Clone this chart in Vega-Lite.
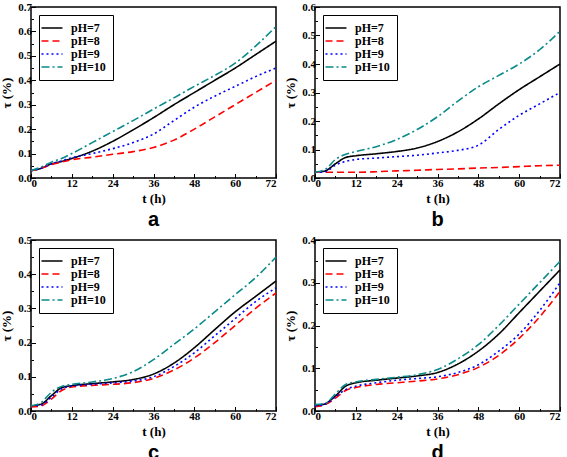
{
  "$schema": "https://vega.github.io/schema/vega-lite/v6.json",
  "padding": {"left": 0, "top": 0, "right": 4, "bottom": 0},
  "spacing": 2,
  "config": {
    "view": {"stroke": "black", "strokeWidth": 1.5},
    "font": "Liberation Serif",
    "axis": {
      "domain": false, "grid": false,
      "tickColor": "black", "tickWidth": 1,
      "tickSize": {"condition": {"test": "round(datum.value * 1000) % 100 !== 0", "value": -2.5}, "value": -4.5},
      "labelFont": "Liberation Serif", "labelFontWeight": "bold", "labelFontSize": 11, "labelColor": "black",
      "titleFont": "Liberation Serif", "titleFontWeight": "bold", "titleFontSize": 13, "titleColor": "black",
      "labelPadding": 4
    },
    "axisX": {"tickSize": {"condition": {"test": "datum.value % 12 !== 0", "value": -2.5}, "value": -4.5}, "labelExpr": "datum.value % 12 === 0 ? datum.label : ''"},
    "axisY": {"labelExpr": "round(datum.value * 1000) % 100 === 0 ? format(datum.value, '.1f') : ''"},
    "legend": {
      "orient": "top-left", "offset": 8, "strokeColor": "black", "fillColor": "white", "padding": 7,
      "symbolType": "M-2.1,0H2.1", "symbolSize": 100, "symbolStrokeWidth": 2,
      "labelFont": "Liberation Serif", "labelFontWeight": "bold", "labelFontSize": 12, "labelColor": "black", "labelOffset": 13,
      "rowPadding": 1, "title": null
    },
    "title": {"font": "Liberation Sans", "fontWeight": "bold", "fontSize": 20, "orient": "bottom", "anchor": "middle", "offset": 0, "color": "black"},
    "line": {"strokeWidth": 1.6, "interpolate": "monotone"}
  },
  "datasets": {
    "a": [
      {"t":0,"pH":"pH=7","v":0.03},{"t":3,"pH":"pH=7","v":0.04},{"t":6,"pH":"pH=7","v":0.058},{"t":9,"pH":"pH=7","v":0.068},{"t":12,"pH":"pH=7","v":0.08},{"t":18,"pH":"pH=7","v":0.11},{"t":24,"pH":"pH=7","v":0.15},{"t":30,"pH":"pH=7","v":0.197},{"t":36,"pH":"pH=7","v":0.247},{"t":42,"pH":"pH=7","v":0.3},{"t":48,"pH":"pH=7","v":0.35},{"t":54,"pH":"pH=7","v":0.4},{"t":60,"pH":"pH=7","v":0.45},{"t":66,"pH":"pH=7","v":0.505},{"t":72,"pH":"pH=7","v":0.56},
      {"t":0,"pH":"pH=8","v":0.03},{"t":3,"pH":"pH=8","v":0.04},{"t":6,"pH":"pH=8","v":0.055},{"t":9,"pH":"pH=8","v":0.065},{"t":12,"pH":"pH=8","v":0.075},{"t":18,"pH":"pH=8","v":0.085},{"t":24,"pH":"pH=8","v":0.097},{"t":30,"pH":"pH=8","v":0.108},{"t":36,"pH":"pH=8","v":0.125},{"t":42,"pH":"pH=8","v":0.155},{"t":48,"pH":"pH=8","v":0.2},{"t":54,"pH":"pH=8","v":0.25},{"t":60,"pH":"pH=8","v":0.3},{"t":66,"pH":"pH=8","v":0.35},{"t":72,"pH":"pH=8","v":0.4},
      {"t":0,"pH":"pH=9","v":0.03},{"t":3,"pH":"pH=9","v":0.04},{"t":6,"pH":"pH=9","v":0.058},{"t":9,"pH":"pH=9","v":0.07},{"t":12,"pH":"pH=9","v":0.083},{"t":18,"pH":"pH=9","v":0.1},{"t":24,"pH":"pH=9","v":0.12},{"t":30,"pH":"pH=9","v":0.145},{"t":36,"pH":"pH=9","v":0.18},{"t":42,"pH":"pH=9","v":0.235},{"t":48,"pH":"pH=9","v":0.29},{"t":54,"pH":"pH=9","v":0.335},{"t":60,"pH":"pH=9","v":0.375},{"t":66,"pH":"pH=9","v":0.415},{"t":72,"pH":"pH=9","v":0.45},
      {"t":0,"pH":"pH=10","v":0.03},{"t":3,"pH":"pH=10","v":0.045},{"t":6,"pH":"pH=10","v":0.065},{"t":9,"pH":"pH=10","v":0.08},{"t":12,"pH":"pH=10","v":0.1},{"t":18,"pH":"pH=10","v":0.145},{"t":24,"pH":"pH=10","v":0.19},{"t":30,"pH":"pH=10","v":0.235},{"t":36,"pH":"pH=10","v":0.282},{"t":42,"pH":"pH=10","v":0.328},{"t":48,"pH":"pH=10","v":0.375},{"t":54,"pH":"pH=10","v":0.42},{"t":60,"pH":"pH=10","v":0.47},{"t":66,"pH":"pH=10","v":0.54},{"t":72,"pH":"pH=10","v":0.62}
    ],
    "b": [
      {"t":0,"pH":"pH=7","v":0.02},{"t":3,"pH":"pH=7","v":0.025},{"t":6,"pH":"pH=7","v":0.05},{"t":9,"pH":"pH=7","v":0.072},{"t":12,"pH":"pH=7","v":0.078},{"t":18,"pH":"pH=7","v":0.085},{"t":24,"pH":"pH=7","v":0.093},{"t":30,"pH":"pH=7","v":0.105},{"t":36,"pH":"pH=7","v":0.128},{"t":42,"pH":"pH=7","v":0.162},{"t":48,"pH":"pH=7","v":0.207},{"t":54,"pH":"pH=7","v":0.26},{"t":60,"pH":"pH=7","v":0.31},{"t":66,"pH":"pH=7","v":0.355},{"t":72,"pH":"pH=7","v":0.4},
      {"t":0,"pH":"pH=8","v":0.02},{"t":6,"pH":"pH=8","v":0.02},{"t":12,"pH":"pH=8","v":0.02},{"t":18,"pH":"pH=8","v":0.022},{"t":24,"pH":"pH=8","v":0.025},{"t":30,"pH":"pH=8","v":0.027},{"t":36,"pH":"pH=8","v":0.03},{"t":42,"pH":"pH=8","v":0.032},{"t":48,"pH":"pH=8","v":0.035},{"t":54,"pH":"pH=8","v":0.037},{"t":60,"pH":"pH=8","v":0.04},{"t":66,"pH":"pH=8","v":0.043},{"t":72,"pH":"pH=8","v":0.045},
      {"t":0,"pH":"pH=9","v":0.02},{"t":3,"pH":"pH=9","v":0.022},{"t":6,"pH":"pH=9","v":0.045},{"t":9,"pH":"pH=9","v":0.058},{"t":12,"pH":"pH=9","v":0.065},{"t":18,"pH":"pH=9","v":0.07},{"t":24,"pH":"pH=9","v":0.075},{"t":30,"pH":"pH=9","v":0.08},{"t":36,"pH":"pH=9","v":0.088},{"t":42,"pH":"pH=9","v":0.097},{"t":48,"pH":"pH=9","v":0.115},{"t":54,"pH":"pH=9","v":0.17},{"t":60,"pH":"pH=9","v":0.22},{"t":66,"pH":"pH=9","v":0.26},{"t":72,"pH":"pH=9","v":0.3},
      {"t":0,"pH":"pH=10","v":0.02},{"t":3,"pH":"pH=10","v":0.03},{"t":6,"pH":"pH=10","v":0.065},{"t":9,"pH":"pH=10","v":0.083},{"t":12,"pH":"pH=10","v":0.093},{"t":18,"pH":"pH=10","v":0.11},{"t":24,"pH":"pH=10","v":0.135},{"t":30,"pH":"pH=10","v":0.17},{"t":36,"pH":"pH=10","v":0.215},{"t":42,"pH":"pH=10","v":0.27},{"t":48,"pH":"pH=10","v":0.32},{"t":54,"pH":"pH=10","v":0.36},{"t":60,"pH":"pH=10","v":0.4},{"t":66,"pH":"pH=10","v":0.45},{"t":72,"pH":"pH=10","v":0.515}
    ],
    "c": [
      {"t":0,"pH":"pH=7","v":0.015},{"t":3,"pH":"pH=7","v":0.02},{"t":6,"pH":"pH=7","v":0.045},{"t":9,"pH":"pH=7","v":0.068},{"t":12,"pH":"pH=7","v":0.074},{"t":18,"pH":"pH=7","v":0.08},{"t":24,"pH":"pH=7","v":0.085},{"t":30,"pH":"pH=7","v":0.092},{"t":36,"pH":"pH=7","v":0.108},{"t":42,"pH":"pH=7","v":0.14},{"t":48,"pH":"pH=7","v":0.185},{"t":54,"pH":"pH=7","v":0.238},{"t":60,"pH":"pH=7","v":0.29},{"t":66,"pH":"pH=7","v":0.335},{"t":72,"pH":"pH=7","v":0.38},
      {"t":0,"pH":"pH=8","v":0.012},{"t":3,"pH":"pH=8","v":0.015},{"t":6,"pH":"pH=8","v":0.035},{"t":9,"pH":"pH=8","v":0.06},{"t":12,"pH":"pH=8","v":0.07},{"t":18,"pH":"pH=8","v":0.075},{"t":24,"pH":"pH=8","v":0.078},{"t":30,"pH":"pH=8","v":0.083},{"t":36,"pH":"pH=8","v":0.095},{"t":42,"pH":"pH=8","v":0.12},{"t":48,"pH":"pH=8","v":0.155},{"t":54,"pH":"pH=8","v":0.2},{"t":60,"pH":"pH=8","v":0.25},{"t":66,"pH":"pH=8","v":0.3},{"t":72,"pH":"pH=8","v":0.345},
      {"t":0,"pH":"pH=9","v":0.015},{"t":3,"pH":"pH=9","v":0.018},{"t":6,"pH":"pH=9","v":0.04},{"t":9,"pH":"pH=9","v":0.065},{"t":12,"pH":"pH=9","v":0.073},{"t":18,"pH":"pH=9","v":0.078},{"t":24,"pH":"pH=9","v":0.082},{"t":30,"pH":"pH=9","v":0.088},{"t":36,"pH":"pH=9","v":0.1},{"t":42,"pH":"pH=9","v":0.13},{"t":48,"pH":"pH=9","v":0.17},{"t":54,"pH":"pH=9","v":0.22},{"t":60,"pH":"pH=9","v":0.27},{"t":66,"pH":"pH=9","v":0.32},{"t":72,"pH":"pH=9","v":0.36},
      {"t":0,"pH":"pH=10","v":0.015},{"t":3,"pH":"pH=10","v":0.025},{"t":6,"pH":"pH=10","v":0.055},{"t":9,"pH":"pH=10","v":0.072},{"t":12,"pH":"pH=10","v":0.078},{"t":18,"pH":"pH=10","v":0.085},{"t":24,"pH":"pH=10","v":0.095},{"t":30,"pH":"pH=10","v":0.115},{"t":36,"pH":"pH=10","v":0.15},{"t":42,"pH":"pH=10","v":0.195},{"t":48,"pH":"pH=10","v":0.24},{"t":54,"pH":"pH=10","v":0.29},{"t":60,"pH":"pH=10","v":0.34},{"t":66,"pH":"pH=10","v":0.39},{"t":72,"pH":"pH=10","v":0.45}
    ],
    "d": [
      {"t":0,"pH":"pH=7","v":0.012},{"t":3,"pH":"pH=7","v":0.017},{"t":6,"pH":"pH=7","v":0.035},{"t":9,"pH":"pH=7","v":0.058},{"t":12,"pH":"pH=7","v":0.066},{"t":18,"pH":"pH=7","v":0.072},{"t":24,"pH":"pH=7","v":0.077},{"t":30,"pH":"pH=7","v":0.082},{"t":36,"pH":"pH=7","v":0.09},{"t":42,"pH":"pH=7","v":0.11},{"t":48,"pH":"pH=7","v":0.14},{"t":54,"pH":"pH=7","v":0.18},{"t":60,"pH":"pH=7","v":0.23},{"t":66,"pH":"pH=7","v":0.28},{"t":72,"pH":"pH=7","v":0.33},
      {"t":0,"pH":"pH=8","v":0.01},{"t":3,"pH":"pH=8","v":0.015},{"t":6,"pH":"pH=8","v":0.03},{"t":9,"pH":"pH=8","v":0.048},{"t":12,"pH":"pH=8","v":0.055},{"t":18,"pH":"pH=8","v":0.062},{"t":24,"pH":"pH=8","v":0.066},{"t":30,"pH":"pH=8","v":0.07},{"t":36,"pH":"pH=8","v":0.075},{"t":42,"pH":"pH=8","v":0.085},{"t":48,"pH":"pH=8","v":0.102},{"t":54,"pH":"pH=8","v":0.13},{"t":60,"pH":"pH=8","v":0.17},{"t":66,"pH":"pH=8","v":0.22},{"t":72,"pH":"pH=8","v":0.28},
      {"t":0,"pH":"pH=9","v":0.012},{"t":3,"pH":"pH=9","v":0.016},{"t":6,"pH":"pH=9","v":0.033},{"t":9,"pH":"pH=9","v":0.05},{"t":12,"pH":"pH=9","v":0.058},{"t":18,"pH":"pH=9","v":0.066},{"t":24,"pH":"pH=9","v":0.072},{"t":30,"pH":"pH=9","v":0.076},{"t":36,"pH":"pH=9","v":0.08},{"t":42,"pH":"pH=9","v":0.09},{"t":48,"pH":"pH=9","v":0.108},{"t":54,"pH":"pH=9","v":0.14},{"t":60,"pH":"pH=9","v":0.18},{"t":66,"pH":"pH=9","v":0.235},{"t":72,"pH":"pH=9","v":0.3},
      {"t":0,"pH":"pH=10","v":0.015},{"t":3,"pH":"pH=10","v":0.018},{"t":6,"pH":"pH=10","v":0.04},{"t":9,"pH":"pH=10","v":0.062},{"t":12,"pH":"pH=10","v":0.068},{"t":18,"pH":"pH=10","v":0.074},{"t":24,"pH":"pH=10","v":0.079},{"t":30,"pH":"pH=10","v":0.085},{"t":36,"pH":"pH=10","v":0.097},{"t":42,"pH":"pH=10","v":0.122},{"t":48,"pH":"pH=10","v":0.155},{"t":54,"pH":"pH=10","v":0.2},{"t":60,"pH":"pH=10","v":0.25},{"t":66,"pH":"pH=10","v":0.3},{"t":72,"pH":"pH=10","v":0.35}
    ]
  },
  "resolve": {"scale": {"color": "independent", "strokeDash": "independent"}, "legend": {"color": "independent", "strokeDash": "independent"}},
  "vconcat": [
    {
      "spacing": 39,
      "bounds": "flush",
      "resolve": {"scale": {"color": "independent", "strokeDash": "independent"}, "legend": {"color": "independent", "strokeDash": "independent"}},
      "hconcat": [
        {
          "width": 245, "height": 171,
          "title": "a",
          "data": {"name": "a"},
          "mark": "line",
          "encoding": {
            "x": {"field": "t", "type": "quantitative", "title": "t (h)", "scale": {"domain": [0, 72], "nice": false}, "axis": {"values": [0, 6, 12, 18, 24, 30, 36, 42, 48, 54, 60, 66, 72]}},
            "y": {"field": "v", "type": "quantitative", "title": "τ (%)", "scale": {"domain": [0, 0.7], "nice": false}, "axis": {"values": [0, 0.05, 0.1, 0.15, 0.2, 0.25, 0.3, 0.35, 0.4, 0.45, 0.5, 0.55, 0.6, 0.65, 0.7]}},
            "color": {"field": "pH", "type": "nominal", "scale": {"domain": ["pH=7", "pH=8", "pH=9", "pH=10"], "range": ["#000000", "#ff0000", "#0000ff", "#0a8a8a"]}},
            "strokeDash": {"field": "pH", "type": "nominal", "scale": {"domain": ["pH=7", "pH=8", "pH=9", "pH=10"], "range": [[1, 0], [7, 4], [2, 3], [8, 3, 2, 3]]}}
          }
        },
        {
          "width": 245, "height": 171,
          "title": "b",
          "data": {"name": "b"},
          "mark": "line",
          "encoding": {
            "x": {"field": "t", "type": "quantitative", "title": "t (h)", "scale": {"domain": [0, 72], "nice": false}, "axis": {"values": [0, 6, 12, 18, 24, 30, 36, 42, 48, 54, 60, 66, 72]}},
            "y": {"field": "v", "type": "quantitative", "title": "τ (%)", "scale": {"domain": [0, 0.6], "nice": false}, "axis": {"values": [0, 0.05, 0.1, 0.15, 0.2, 0.25, 0.3, 0.35, 0.4, 0.45, 0.5, 0.55, 0.6]}},
            "color": {"field": "pH", "type": "nominal", "scale": {"domain": ["pH=7", "pH=8", "pH=9", "pH=10"], "range": ["#000000", "#ff0000", "#0000ff", "#0a8a8a"]}},
            "strokeDash": {"field": "pH", "type": "nominal", "scale": {"domain": ["pH=7", "pH=8", "pH=9", "pH=10"], "range": [[1, 0], [7, 4], [2, 3], [8, 3, 2, 3]]}}
          }
        }
      ]
    },
    {
      "spacing": 39,
      "bounds": "flush",
      "resolve": {"scale": {"color": "independent", "strokeDash": "independent"}, "legend": {"color": "independent", "strokeDash": "independent"}},
      "hconcat": [
        {
          "width": 245, "height": 171,
          "title": "c",
          "data": {"name": "c"},
          "mark": "line",
          "encoding": {
            "x": {"field": "t", "type": "quantitative", "title": "t (h)", "scale": {"domain": [0, 72], "nice": false}, "axis": {"values": [0, 6, 12, 18, 24, 30, 36, 42, 48, 54, 60, 66, 72]}},
            "y": {"field": "v", "type": "quantitative", "title": "τ (%)", "scale": {"domain": [0, 0.5], "nice": false}, "axis": {"values": [0, 0.05, 0.1, 0.15, 0.2, 0.25, 0.3, 0.35, 0.4, 0.45, 0.5]}},
            "color": {"field": "pH", "type": "nominal", "scale": {"domain": ["pH=7", "pH=8", "pH=9", "pH=10"], "range": ["#000000", "#ff0000", "#0000ff", "#0a8a8a"]}},
            "strokeDash": {"field": "pH", "type": "nominal", "scale": {"domain": ["pH=7", "pH=8", "pH=9", "pH=10"], "range": [[1, 0], [7, 4], [2, 3], [8, 3, 2, 3]]}}
          }
        },
        {
          "width": 245, "height": 171,
          "title": "d",
          "data": {"name": "d"},
          "mark": "line",
          "encoding": {
            "x": {"field": "t", "type": "quantitative", "title": "t (h)", "scale": {"domain": [0, 72], "nice": false}, "axis": {"values": [0, 6, 12, 18, 24, 30, 36, 42, 48, 54, 60, 66, 72]}},
            "y": {"field": "v", "type": "quantitative", "title": "τ (%)", "scale": {"domain": [0, 0.4], "nice": false}, "axis": {"values": [0, 0.05, 0.1, 0.15, 0.2, 0.25, 0.3, 0.35, 0.4]}},
            "color": {"field": "pH", "type": "nominal", "scale": {"domain": ["pH=7", "pH=8", "pH=9", "pH=10"], "range": ["#000000", "#ff0000", "#0000ff", "#0a8a8a"]}},
            "strokeDash": {"field": "pH", "type": "nominal", "scale": {"domain": ["pH=7", "pH=8", "pH=9", "pH=10"], "range": [[1, 0], [7, 4], [2, 3], [8, 3, 2, 3]]}}
          }
        }
      ]
    }
  ]
}
